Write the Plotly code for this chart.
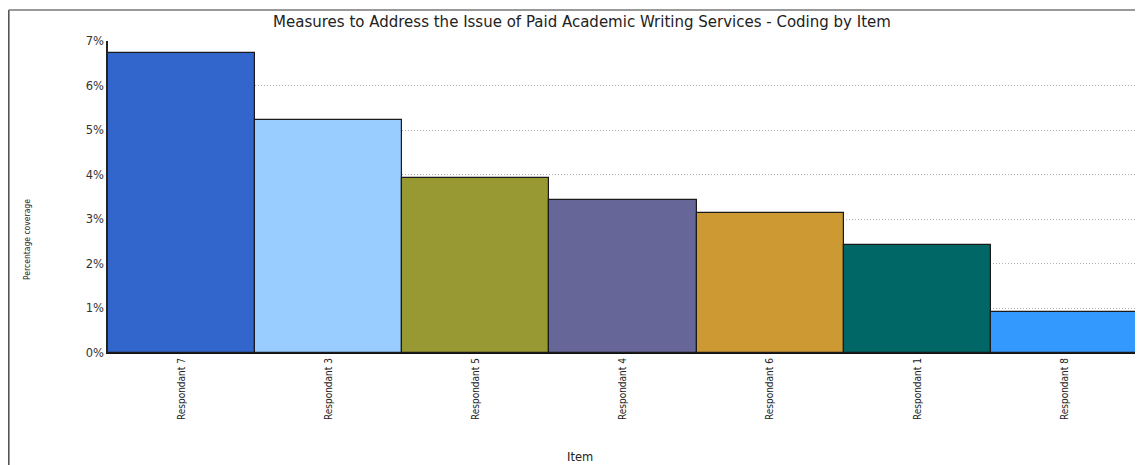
import plotly.graph_objects as go

categories = ["Respondant 7", "Respondant 3", "Respondant 5", "Respondant 4",
              "Respondant 6", "Respondant 1", "Respondant 8"]
coverage = [6.72, 5.22, 3.93, 3.43, 3.15, 2.42, 0.91]
bar_colors = ["#3366CC", "#99CCFF", "#999933", "#666699", "#CC9933", "#006666", "#3399FF"]
y_ticks = [0, 1, 2, 3, 4, 5, 6, 7]
y_tick_labels = [f"{v}%" for v in y_ticks]

# the page body has an 8px margin, so figure coords = page coords - 8
OFF = 8
W, H = 1135, 457
L, T = 108 - OFF, 41 - OFF
pw, ph = 1030, 312
R = W - L - pw
B = H - T - ph

fig = go.Figure(go.Bar(
    x=categories, y=coverage,
    marker=dict(color=bar_colors, line=dict(color="#1a1a1a", width=1.2)),
    width=1.0,
))

narrow = "DejaVu Sans Condensed, Liberation Sans Narrow, Arial Narrow, Arial"
wide = "DejaVu Sans, Verdana, Arial"
fig.update_layout(
    width=W, height=H,
    margin=dict(l=L, r=R, t=T, b=B, autoexpand=False),
    paper_bgcolor="white", plot_bgcolor="white",
    bargap=0,
    showlegend=False,
    title=dict(text="Measures to Address the Issue of Paid Academic Writing Services - Coding by Item",
               x=(582 - OFF) / W, xanchor="center", xref="container",
               y=1 - (21.5 - OFF) / H, yanchor="middle", yref="container",
               font=dict(family=wide, size=15, color="#222")),
    xaxis=dict(
        showgrid=False, showline=True, linecolor="#111", linewidth=1.2,
        tickangle=-90, tickfont=dict(family=narrow, size=10, color="#222"),
        ticks="", range=[-0.5, 6.5], automargin=False,
    ),
    yaxis=dict(
        range=[0, 7], tickvals=y_ticks, ticktext=y_tick_labels,
        showgrid=True, gridcolor="#b0b0b0", griddash="1px,2px", gridwidth=1,
        showline=True, linecolor="#222", linewidth=1.5,
        tickfont=dict(family=wide, size=11.5, color="#333"),
        ticks="", zeroline=False, automargin=False,
    ),
)

# axis titles placed as in the reference
fig.add_annotation(text="Item", xref="paper", yref="paper",
                   x=(580 - 108) / pw, y=(353 - 457) / ph, showarrow=False,
                   xanchor="center", yanchor="middle",
                   font=dict(family=wide, size=11.5, color="#222"))
fig.add_annotation(text="Percentage coverage", xref="paper", yref="paper",
                   x=(27 - 108) / pw, y=(353 - 240) / ph, showarrow=False, textangle=-90,
                   xanchor="center", yanchor="middle",
                   font=dict(family=narrow, size=8.5, color="#222"))

# outer frame lines (left and top), as in the reference screenshot
x_left = (0.8 - L) / pw
y_top = 1 + (T - 2) / ph
y_bot = (T + ph - H) / ph
fig.add_shape(type="line", xref="paper", yref="paper", x0=x_left, x1=x_left, y0=y_bot, y1=y_top,
              line=dict(color="#555", width=1.6))
fig.add_shape(type="line", xref="paper", yref="paper", x0=x_left, x1=1 + R / pw, y0=y_top, y1=y_top,
              line=dict(color="#777", width=1.5))

fig.write_html("out.html")
